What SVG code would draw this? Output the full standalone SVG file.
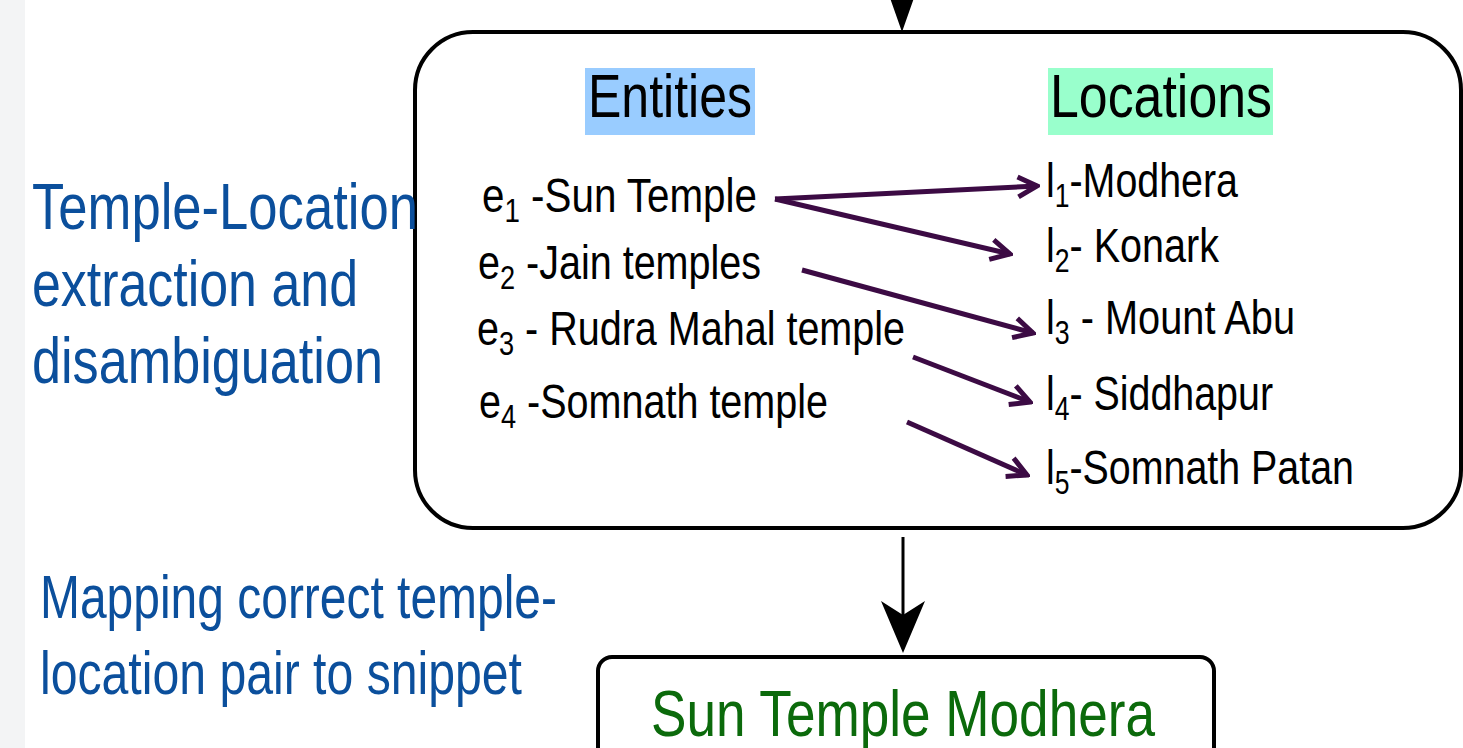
<svg xmlns="http://www.w3.org/2000/svg" width="1463" height="748" viewBox="0 0 1463 748">
<style>
.box{fill:#ffffff;stroke:#000;stroke-width:4}
.blue{font-family:"Liberation Sans",Arial,sans-serif;fill:#0b4f9c}
.blk{font-family:"Liberation Sans",Arial,sans-serif;fill:#000}
.conn{stroke:#3c0b44;stroke-width:5;fill:none;marker-end:url(#v)}
</style>
<defs>
<marker id="v" markerUnits="userSpaceOnUse" viewBox="0 0 26 26" markerWidth="26" markerHeight="26" refX="23" refY="13" orient="auto">
<path d="M4,3 L23,13 L4,23" fill="none" stroke="#3c0b44" stroke-width="5" stroke-linejoin="miter"/>
</marker>
</defs>
<rect x="0" y="0" width="1463" height="748" fill="#ffffff"/>
<rect x="0" y="0" width="25" height="748" fill="#f3f4f5"/>

<g id="main-box">
<rect class="box" x="415" y="32" width="1046" height="496" rx="58" ry="58"/>
</g>

<g id="label-extraction">
<text class="blue" font-size="65" x="32" y="229" textLength="386" lengthAdjust="spacingAndGlyphs">Temple-Location</text>
<text class="blue" font-size="65" x="32" y="306" textLength="326" lengthAdjust="spacingAndGlyphs">extraction and</text>
<text class="blue" font-size="65" x="32" y="383" textLength="351" lengthAdjust="spacingAndGlyphs">disambiguation</text>
</g>

<g id="label-mapping">
<text class="blue" font-size="62" x="40" y="618" textLength="517" lengthAdjust="spacingAndGlyphs">Mapping correct temple-</text>
<text class="blue" font-size="62" x="40" y="694" textLength="482" lengthAdjust="spacingAndGlyphs">location pair to snippet</text>
</g>

<g id="entities-header">
<rect x="585" y="68" width="170" height="67" fill="#99ccff"/>
<text class="blk" font-size="62" x="588" y="117" textLength="164" lengthAdjust="spacingAndGlyphs">Entities</text>
</g>

<g id="locations-header">
<rect x="1048" y="68" width="225" height="67" fill="#99ffcc"/>
<text class="blk" font-size="62" x="1050" y="117" textLength="222" lengthAdjust="spacingAndGlyphs">Locations</text>
</g>

<g id="e1"><text class="blk" font-size="48" x="482" y="212" textLength="275" lengthAdjust="spacingAndGlyphs">e<tspan font-size="33" dy="10">1</tspan><tspan dy="-10"> -Sun Temple</tspan></text></g>
<g id="e2"><text class="blk" font-size="48" x="478" y="279" textLength="283" lengthAdjust="spacingAndGlyphs">e<tspan font-size="33" dy="10">2</tspan><tspan dy="-10"> -Jain temples</tspan></text></g>
<g id="e3"><text class="blk" font-size="48" x="477" y="345" textLength="428" lengthAdjust="spacingAndGlyphs">e<tspan font-size="33" dy="10">3</tspan><tspan dy="-10"> - Rudra Mahal temple</tspan></text></g>
<g id="e4"><text class="blk" font-size="48" x="479" y="418" textLength="349" lengthAdjust="spacingAndGlyphs">e<tspan font-size="33" dy="10">4</tspan><tspan dy="-10"> -Somnath temple</tspan></text></g>

<g id="l1"><text class="blk" font-size="49" x="1046" y="197" textLength="192" lengthAdjust="spacingAndGlyphs">l<tspan font-size="33" dy="10">1</tspan><tspan dy="-10">-Modhera</tspan></text></g>
<g id="l2"><text class="blk" font-size="49" x="1046" y="262" textLength="173" lengthAdjust="spacingAndGlyphs">l<tspan font-size="33" dy="10">2</tspan><tspan dy="-10">- Konark</tspan></text></g>
<g id="l3"><text class="blk" font-size="49" x="1046" y="334" textLength="249" lengthAdjust="spacingAndGlyphs">l<tspan font-size="33" dy="10">3</tspan><tspan dy="-10"> - Mount Abu</tspan></text></g>
<g id="l4"><text class="blk" font-size="49" x="1046" y="410" textLength="227" lengthAdjust="spacingAndGlyphs">l<tspan font-size="33" dy="10">4</tspan><tspan dy="-10">- Siddhapur</tspan></text></g>
<g id="l5"><text class="blk" font-size="49" x="1046" y="484" textLength="308" lengthAdjust="spacingAndGlyphs">l<tspan font-size="33" dy="10">5</tspan><tspan dy="-10">-Somnath Patan</tspan></text></g>

<g id="result-box">
<rect class="box" x="598" y="657" width="616" height="130" rx="14" ry="14"/>
<text font-family="Liberation Sans, Arial, sans-serif" font-size="65" fill="#0b6a0b" x="651" y="736" textLength="504" lengthAdjust="spacingAndGlyphs">Sun Temple Modhera</text>
</g>

<g id="connectors">
<line class="conn" x1="775" y1="199" x2="1037" y2="186"/>
<line class="conn" x1="775" y1="199" x2="1010" y2="254"/>
<line class="conn" x1="802" y1="270" x2="1033" y2="333"/>
<line class="conn" x1="913" y1="357" x2="1030" y2="402"/>
<line class="conn" x1="907" y1="422" x2="1027" y2="475"/>
<line x1="902" y1="-60" x2="902" y2="10" stroke="#000" stroke-width="3"/>
<path d="M902,32 L883,-22 L902,-8 L921,-22 Z" fill="#000"/>
<line x1="903" y1="537" x2="903" y2="615" stroke="#000" stroke-width="3"/>
<path d="M903,653 L881,601 L903,615 L925,601 Z" fill="#000"/>
</g>
</svg>
